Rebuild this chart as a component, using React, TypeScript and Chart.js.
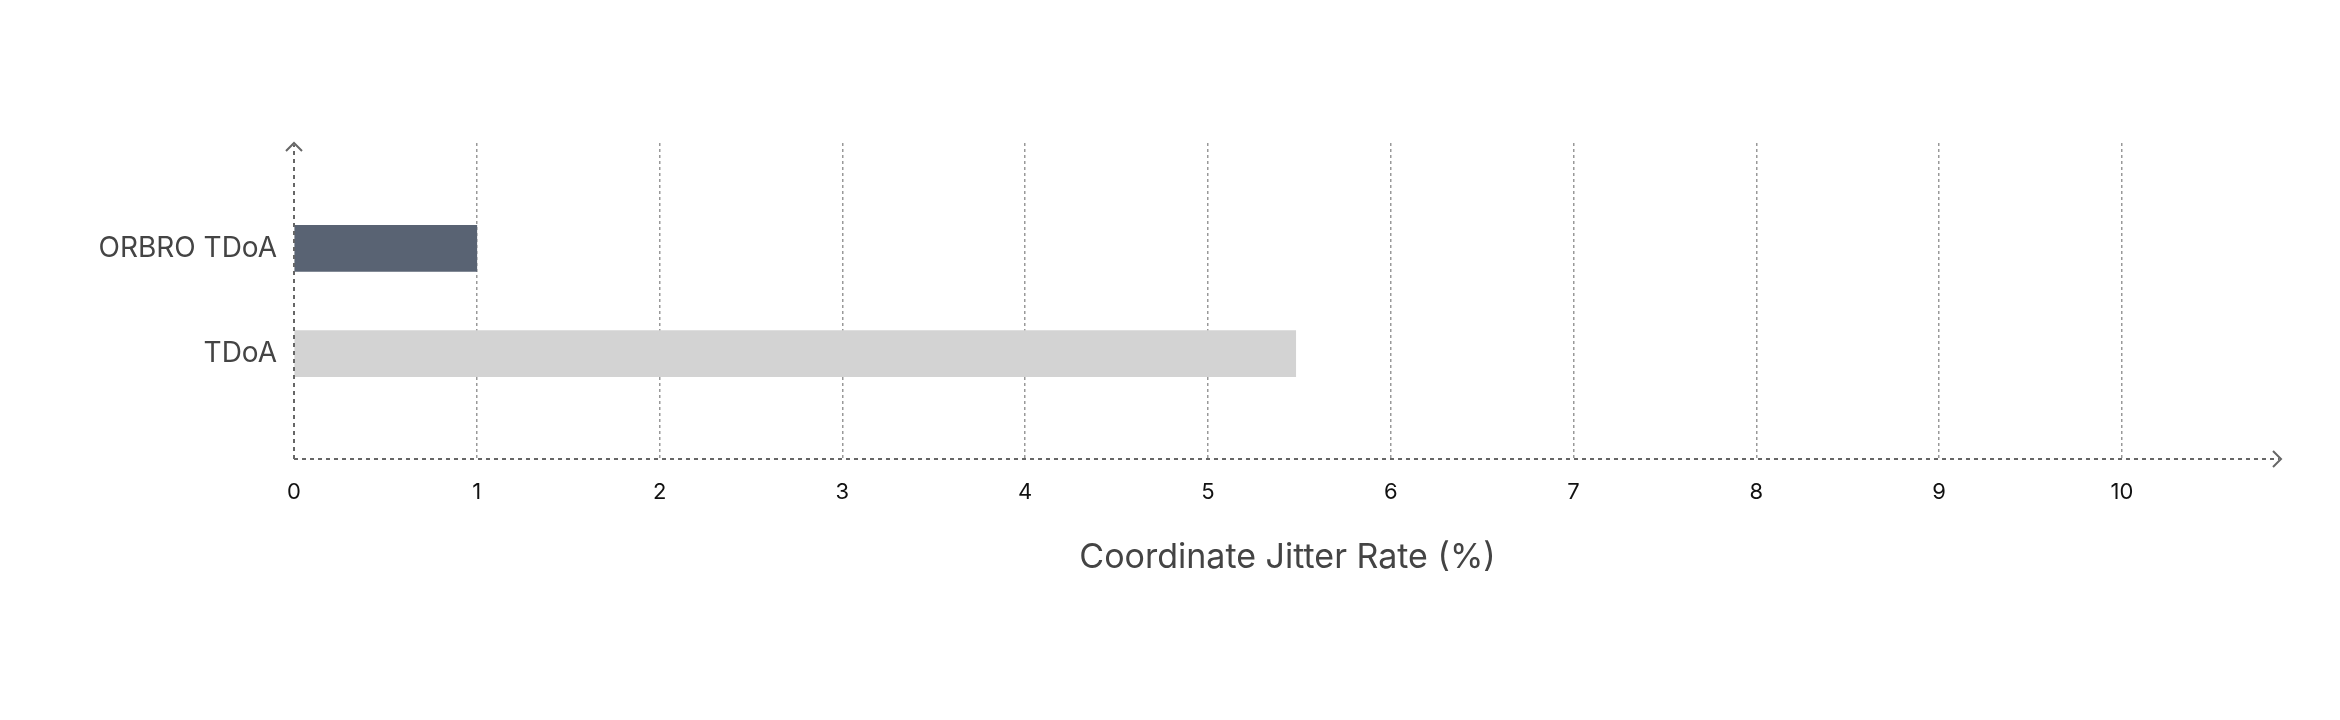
import React, { useEffect, useRef } from 'react';
import { Chart, registerables } from 'chart.js';

Chart.register(...registerables);

const categories = ['ORBRO TDoA', 'TDoA'];
const jitterRates = [1, 5.48];
const barColors = ['#596373', '#d3d3d3'];
const xTickValues = [0, 1, 2, 3, 4, 5, 6, 7, 8, 9, 10];
const xTitle = 'Coordinate Jitter Rate (%)';

// dashed axis lines with little chevrons at their ends
const axisArrows = {
  id: 'axisArrows',
  afterDraw(chart: any) {
    const { ctx, chartArea } = chart;
    const { left, right, top, bottom } = chartArea;
    ctx.save();
    ctx.strokeStyle = '#666666';
    ctx.lineWidth = 2;
    ctx.setLineDash([4, 4]);
    ctx.beginPath();
    ctx.moveTo(left, bottom);
    ctx.lineTo(right - 2, bottom);
    ctx.moveTo(left, bottom);
    ctx.lineTo(left, top + 2);
    ctx.stroke();
    ctx.setLineDash([]);
    ctx.beginPath();
    ctx.moveTo(right - 8, bottom - 8);
    ctx.lineTo(right, bottom);
    ctx.lineTo(right - 8, bottom + 8);
    ctx.moveTo(left - 8, top + 8);
    ctx.lineTo(left, top);
    ctx.lineTo(left + 8, top + 8);
    ctx.stroke();
    ctx.restore();
  },
};

const App: React.FC = () => {
  const chartRef = useRef<HTMLCanvasElement>(null);
  const chartInstance = useRef<Chart | null>(null);

  useEffect(() => {
    document.body.style.margin = '0';
    if (!chartRef.current) return;
    const ctx = chartRef.current.getContext('2d');
    if (!ctx) return;
    if (chartInstance.current) chartInstance.current.destroy();

    chartInstance.current = new Chart(ctx, {
      type: 'bar',
      data: {
        datasets: [
          {
            data: categories.map((_, i) => ({ x: jitterRates[i], y: i + 1 })),
            backgroundColor: barColors,
            borderWidth: 0,
            barThickness: 46,
          },
        ],
      },
      options: {
        indexAxis: 'y',
        animation: false,
        responsive: false,
        maintainAspectRatio: false,
        layout: { padding: { top: 143, right: 59, bottom: 0, left: 0 } },
        plugins: {
          legend: { display: false },
          tooltip: { enabled: false },
        },
        scales: {
          x: {
            type: 'linear',
            min: 0,
            max: 10.87,
            z: 1,
            afterBuildTicks: (scale: any) => {
              scale.ticks = xTickValues.map((v) => ({ value: v }));
            },
            afterFit: (scale: any) => {
              scale.height = 261;
            },
            ticks: {
              padding: 20,
              color: '#111111',
              font: { family: 'Inter', size: 22 },
            },
            grid: {
              drawTicks: false,
              color: (c: any) => (c.tick && c.tick.value === 0 ? 'rgba(0,0,0,0)' : '#999999'),
              lineWidth: 1.5,
            },
            border: { display: false, dash: [3, 3] },
            title: {
              display: true,
              text: xTitle,
              color: '#444444',
              font: { family: 'Inter', size: 34 },
              padding: { top: 0, bottom: 142 },
            },
          },
          y: {
            type: 'linear',
            min: 0,
            max: 3,
            reverse: true,
            offset: false,
            bounds: 'data',
            afterBuildTicks: (scale: any) => {
              scale.ticks = categories.map((_, i) => ({ value: i + 1 }));
            },
            afterFit: (scale: any) => {
              scale.width = 294;
            },
            ticks: {
              padding: 17,
              color: '#444444',
              font: { family: 'Inter', size: 28 },
              callback: (v: any) => categories[Number(v) - 1] ?? '',
            },
            grid: { display: false, drawTicks: false, offset: false },
            border: { display: false },
          },
        },
      },
      plugins: [axisArrows],
    } as any);

    return () => {
      if (chartInstance.current) {
        chartInstance.current.destroy();
        chartInstance.current = null;
      }
    };
  }, []);

  return (
    <div style={{ width: 2340, height: 720, position: 'relative', background: '#ffffff' }}>
      <canvas ref={chartRef} width={2340} height={720} />
    </div>
  );
};

export default App;
